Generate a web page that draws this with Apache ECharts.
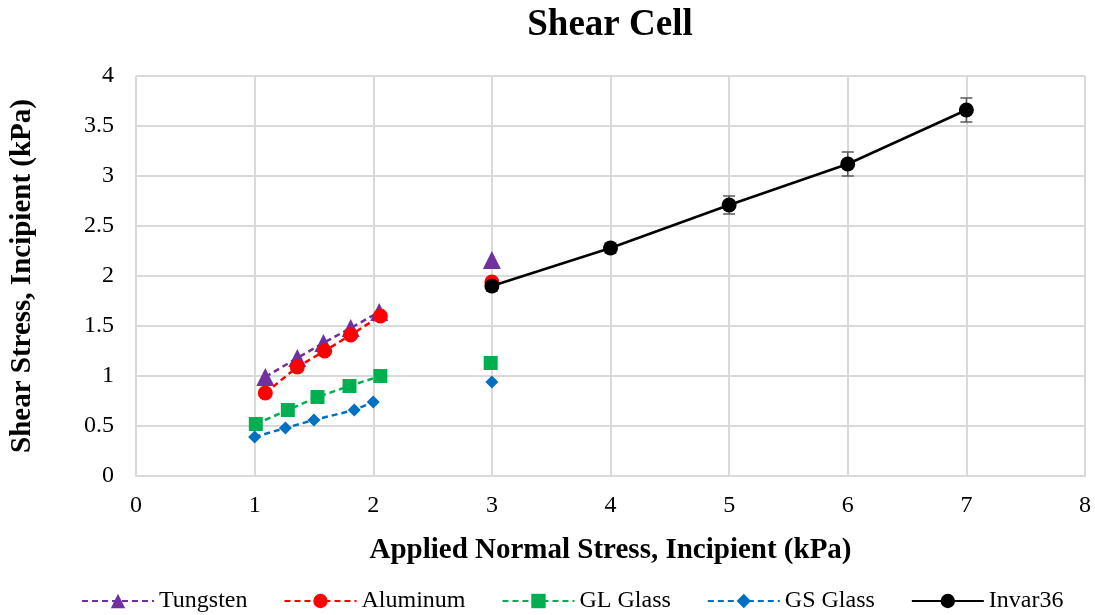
<!DOCTYPE html>
<html><head><meta charset="utf-8">
<script src="https://cdn.jsdelivr.net/npm/echarts@6/dist/echarts.min.js"></script>
<style>html,body{margin:0;padding:0;background:#fff}#c{width:1095px;height:615px}</style>
</head><body><div id="c"></div>
<script>
const tungsten = [[1.09,0.99],[1.36,1.18],[1.58,1.33],[1.81,1.48],[2.05,1.64]];
const tungsten3 = [[3.0,2.16]];
const aluminum = [[1.09,0.83],[1.36,1.09],[1.59,1.25],[1.81,1.41],[2.06,1.60]];
const aluminum3 = [[3.0,1.94]];
const glGlass = [[1.01,0.52],[1.28,0.66],[1.53,0.79],[1.8,0.90],[2.06,1.00]];
const glGlass3 = [[2.99,1.13]];
const gsGlass = [[1.0,0.39],[1.26,0.48],[1.5,0.56],[1.84,0.66],[2.0,0.74]];
const gsGlass3 = [[3.0,0.94]];
const invar = [[3,1.90],[4,2.28],[5,2.71],[6,3.12],[7,3.66]];
const invarErr = [0.05,0.05,0.09,0.12,0.12];
const xTicks = [0,1,2,3,4,5,6,7,8];
const yTicks = [0,0.5,1,1.5,2,2.5,3,3.5,4];

const serif = "'Liberation Serif', 'Times New Roman', serif";
const chart = echarts.init(document.getElementById('c'));
const errData = invar.map((p,i)=>[p[0], p[1]-invarErr[i], p[1]+invarErr[i]]);
function dashLine(name,color,symbol,size,data){
  return {name, type:'line', data, symbol, symbolSize:size, showSymbol:true,
    itemStyle:{color}, lineStyle:{color, width:2.5, type:[6,4]}, z:3};
}
function iso(name,color,symbol,size,data){
  return {name, type:'scatter', data, symbol, symbolSize:size, itemStyle:{color, opacity:1}, z:3};
}
chart.setOption({
  animation:false,
  textStyle:{fontFamily:serif},
  title:{text:'Shear Cell', left:605, textAlign:'center', top:2,
    textStyle:{fontFamily:serif, fontSize:37, fontWeight:'bold', color:'#000'}},
  grid:{left:135, right:10, top:76, bottom:139},
  xAxis:{type:'value', min:0, max:8, interval:1,
    name:'Applied Normal Stress, Incipient (kPa)', nameLocation:'middle', nameGap:60,
    nameTextStyle:{fontFamily:serif, fontSize:29, fontWeight:'bold', color:'#000'},
    axisLine:{show:true, lineStyle:{color:'#d9d9d9', width:2}}, axisTick:{show:false},
    axisLabel:{fontFamily:serif, fontSize:24, color:'#000', margin:18,
      formatter:v=>xTicks.includes(v)?String(v):''},
    splitLine:{show:true, lineStyle:{color:'#d9d9d9', width:2}}},
  yAxis:{type:'value', min:0, max:4, interval:0.5,
    name:'Shear Stress, Incipient (kPa)', nameLocation:'middle', nameGap:99, nameRotate:90,
    nameTextStyle:{fontFamily:serif, fontSize:29, fontWeight:'bold', color:'#000'},
    axisLine:{show:false}, axisTick:{show:false},
    axisLabel:{fontFamily:serif, fontSize:24, color:'#000', margin:22,
      formatter:v=>yTicks.includes(v)?String(v):''},
    splitLine:{show:true, lineStyle:{color:'#d9d9d9', width:2}}},
  legend:{bottom:-3, left:76, itemWidth:72, itemHeight:18, itemGap:36,
    textStyle:{fontFamily:serif, fontSize:24, color:'#000'},
    data:['Tungsten','Aluminum','GL Glass','GS Glass','Invar36']},
  series:[
    dashLine('Tungsten','#7030A0','triangle',18,tungsten),
    dashLine('Aluminum','#FF0000','circle',15,aluminum),
    dashLine('GL Glass','#00B050','rect',14,glGlass),
    dashLine('GS Glass','#0070C0','diamond',13,gsGlass),
    {name:'Invar36', type:'line', data:invar, symbol:'circle', symbolSize:15,
      itemStyle:{color:'#000'}, lineStyle:{color:'#000', width:2.5}, z:4},
    iso('Tungsten','#7030A0','triangle',18,tungsten3),
    iso('Aluminum','#FF0000','circle',15,aluminum3),
    iso('GL Glass','#00B050','rect',14,glGlass3),
    iso('GS Glass','#0070C0','diamond',13,gsGlass3),
    {name:'Invar36', type:'custom', data:errData, z:2,
      renderItem:function(params, api){
        const x=api.value(0);
        const lo=api.coord([x, api.value(1)]);
        const hi=api.coord([x, api.value(2)]);
        const w=6;
        const st={stroke:'#595959', lineWidth:1.5};
        return {type:'group', children:[
          {type:'line', shape:{x1:lo[0],y1:lo[1],x2:hi[0],y2:hi[1]}, style:st},
          {type:'line', shape:{x1:lo[0]-w,y1:lo[1],x2:lo[0]+w,y2:lo[1]}, style:st},
          {type:'line', shape:{x1:hi[0]-w,y1:hi[1],x2:hi[0]+w,y2:hi[1]}, style:st}
        ]};
      }}
  ]
});
</script></body></html>
